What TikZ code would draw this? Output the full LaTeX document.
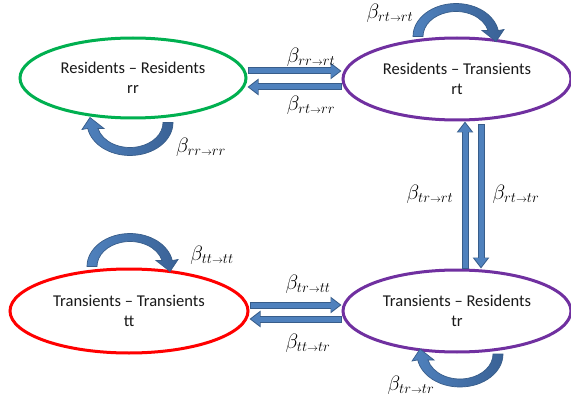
\documentclass[tikz,border=0pt]{standalone}
\usepackage{fontspec}
\setmainfont{Carlito}
\usetikzlibrary{shapes.geometric,arrows.meta,calc}
\definecolor{rrgreen}{HTML}{00B050}
\definecolor{purp}{HTML}{7030A0}
\definecolor{tred}{HTML}{FF0000}
\definecolor{afill}{HTML}{4F81BD}
\definecolor{aborder}{HTML}{385D8A}
\definecolor{adark}{HTML}{3A6296}
\newcommand\blockarrow[2]{\draw[blkout] #1 -- #2; \draw[blkin] #1 -- #2;}
\begin{document}
\begin{tikzpicture}[x=1pt,y=-1pt,
  state/.style={ellipse, line width=3pt, align=center, inner sep=0pt,
    font=\fontsize{16.5}{19.5}\selectfont, text=black!90},
  lbl/.style={inner sep=0pt, font=\fontsize{22}{24}\selectfont},
  blkout/.style={line width=7pt, draw=aborder, -{Triangle[length=11pt,width=16pt]}},
  blkin/.style={line width=5pt, draw=afill, shorten <=1pt, shorten >=1.6pt,
    -{Triangle[length=8.8pt,width=12.6pt]}},
  loopbase/.style={draw=aborder, line width=0.7pt},
  loopcols/.style={left color=afill, right color=adark},
  loopar/.pic={\draw[loopbase, loopcols] (43,0)
      arc[start angle=0, end angle=169.6, x radius=43, y radius=33]
      -- (-48,7) -- (-40,-5) -- (-26,6) -- (-32,6.05)
      arc[start angle=166, end angle=0, x radius=33, y radius=25] -- cycle;}
]
\useasboundingbox (0,0) rectangle (571,404);
\fill[white] (0,0) rectangle (571,404);

\node[state, draw=rrgreen, minimum width=226pt, minimum height=80pt] (rr) at (133,78) {Residents – Residents\\rr};
\node[state, draw=purp, minimum width=228pt, minimum height=82pt] (rt) at (457,79) {Residents – Transients\\rt};
\node[state, draw=tred, minimum width=238pt, minimum height=84pt] (tt) at (129,311) {Transients – Transients\\tt};
\node[state, draw=purp, minimum width=228pt, minimum height=82pt] (tr) at (457,311) {Transients – Residents\\tr};

% horizontal arrows, top
\coordinate (a1) at ([yshift=7pt]rr.east);
\coordinate (a2) at ([yshift=-9pt]rr.east);
\blockarrow{(a1)}{(a1 -| rt.west)}
\blockarrow{(a2 -| rt.west)}{(a2)}
% horizontal arrows, bottom
\coordinate (b1) at ([yshift=6pt]tt.east);
\coordinate (b2) at ([yshift=-8pt]tt.east);
\blockarrow{(b1)}{(b1 -| tr.west)}
\blockarrow{(b2 -| tr.west)}{(b2)}
% vertical arrows
\coordinate (v1) at ([xshift=8pt]tr.north);
\coordinate (v2) at ([xshift=24pt,yshift=-3pt]rt.south);
\blockarrow{(v1)}{(v1 |- rt.south)}
\blockarrow{(v2)}{(v2 |- tr.north)}

% self loops
\pic at ($(rr.south)+(-3,3)$) {loopar};
\pic[rotate=180] at ($(rt.north)+(-1,0)$) {loopar};
\pic[rotate=180] at ($(tt.north)+(1,-1)$) {loopar};
\pic at ($(tr.south)+(3,0.5)$) {loopar};

% labels
\node[lbl] (l1) at (311,57) {$\beta_{rr{\scriptscriptstyle\to}rt}$};
\node[lbl] (l2) at (311,105) {$\beta_{rt{\scriptscriptstyle\to}rr}$};
\node[lbl] (l3) at (390,13) {$\beta_{rt{\scriptscriptstyle\to}rt}$};
\node[lbl] (l4) at (201,147) {$\beta_{rr{\scriptscriptstyle\to}rr}$};
\node[lbl] (l5) at (430,194) {$\beta_{tr{\scriptscriptstyle\to}rt}$};
\node[lbl] (l6) at (516,194) {$\beta_{rt{\scriptscriptstyle\to}tr}$};
\node[lbl] (l7) at (212,255) {$\beta_{tt{\scriptscriptstyle\to}tt}$};
\node[lbl] (l8) at (308,284) {$\beta_{tr{\scriptscriptstyle\to}tt}$};
\node[lbl] (l9) at (308,343) {$\beta_{tt{\scriptscriptstyle\to}tr}$};
\node[lbl] (l10) at (411,385) {$\beta_{tr{\scriptscriptstyle\to}tr}$};
\end{tikzpicture}
\end{document}
